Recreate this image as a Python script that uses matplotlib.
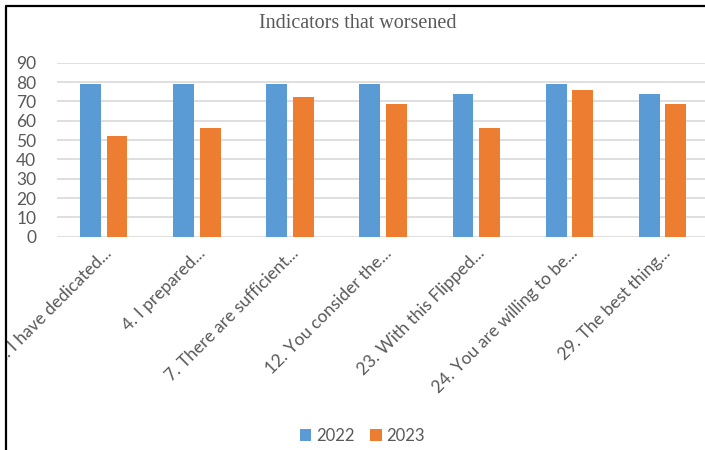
import numpy as np
import matplotlib.pyplot as plt
from matplotlib.lines import Line2D
from matplotlib.patches import Rectangle

categories = ['2. I have dedicated...', '4. I prepared...', '7. There are sufficient...',
              '12. You consider the...', '23. With this Flipped...',
              '24. You are willing to be...', '29. The best thing...']
years = ['2022', '2023']
values_2022 = [78.8, 78.8, 78.8, 78.8, 73.8, 78.8, 73.8]
values_2023 = [51.9, 56.1, 72.4, 68.5, 56.1, 75.9, 68.5]

BLUE = '#5B9BD5'
ORANGE = '#ED7D31'
GREY = '#595959'

plt.rcParams['font.family'] = ['Lato', 'DejaVu Sans']

fig = plt.figure(figsize=(7.05, 4.5), dpi=100)
ax = fig.add_axes([0.081, 0.474, 0.925, 0.3867])

x = np.arange(len(categories))
w = 0.225
ax.bar(x - 0.143, values_2022, w, color=BLUE, label=years[0], zorder=3)
ax.bar(x + 0.143, values_2023, w, color=ORANGE, label=years[1], zorder=3)

ax.set_xlim(-0.5, len(categories) - 0.5)
ax.set_ylim(0, 90)
ax.set_yticks(range(0, 91, 10))
ax.yaxis.grid(True, color='#D9D9D9', linewidth=1.2, zorder=0)
for s in ax.spines.values():
    s.set_visible(False)
ax.tick_params(axis='both', length=0, labelsize=12.5, colors=GREY, pad=6)
ax.tick_params(axis='y', pad=15)
ax.set_xticks(x)
ax.set_xticklabels(categories, rotation=45, ha='right', rotation_mode='anchor')

fig.text(0.507, 0.948, 'Indicators that worsened', ha='center', va='center',
         fontsize=14.5, color=GREY, family='Liberation Serif')

fig.legend(loc='center', bbox_to_anchor=(0.514, 0.031), ncol=2, frameon=False,
           fontsize=12, handlelength=0.7, handleheight=0.7, handletextpad=0.3,
           columnspacing=0.9, labelcolor=GREY)

# outer frame (top and left edges visible in the crop)
fig.patches.append(Rectangle((0, 0), 6 / 705, 1, transform=fig.transFigure,
                             facecolor='white', edgecolor='none', zorder=10))
fig.lines.append(Line2D([6 / 705, 6 / 705, 1], [0, 1 - 6 / 450, 1 - 6 / 450],
                        transform=fig.transFigure, color='black', linewidth=1.6, zorder=11))

plt.savefig('out.png', dpi=100)
